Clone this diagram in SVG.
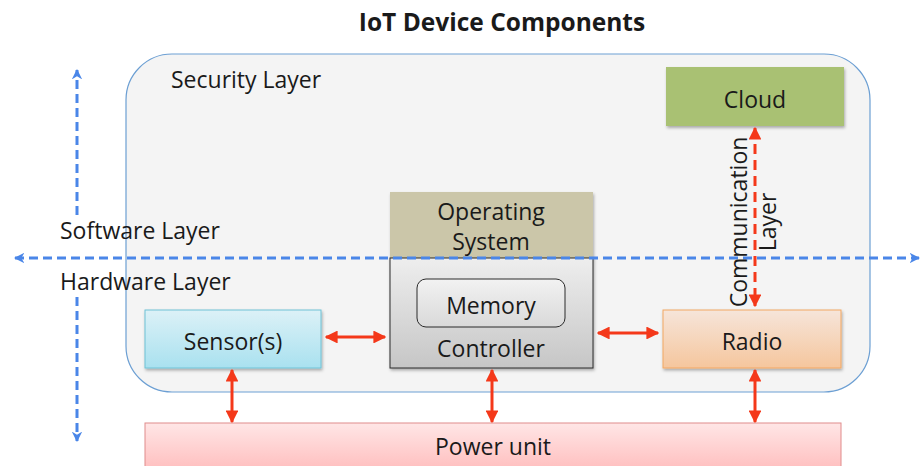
<svg xmlns="http://www.w3.org/2000/svg" width="922" height="466" viewBox="0 0 922 466">
<defs>
<style>
text{font-family:"Open Sans","Noto Sans","Liberation Sans",sans-serif;fill:#1a1a1a;font-size:23px}
.c{text-anchor:middle}
.blue{stroke:#4a86e8;stroke-width:3;stroke-dasharray:9 5;fill:none}
.red{stroke:#f4381a;stroke-width:3;fill:none}
.reddash{stroke:#f4381a;stroke-width:3;stroke-dasharray:10 6;fill:none}
</style>
<linearGradient id="gSensor" x1="0" y1="0" x2="0" y2="1"><stop offset="0" stop-color="#dcf1f7"/><stop offset="1" stop-color="#a9e1ef"/></linearGradient>
<linearGradient id="gRadio" x1="0" y1="0" x2="0" y2="1"><stop offset="0" stop-color="#f6e5da"/><stop offset="1" stop-color="#f5c69d"/></linearGradient>
<linearGradient id="gPower" x1="0" y1="0" x2="0" y2="1"><stop offset="0" stop-color="#ffe6e6"/><stop offset="1" stop-color="#ffbcbc"/></linearGradient>
<linearGradient id="gCtrl" x1="0" y1="0" x2="0" y2="1"><stop offset="0" stop-color="#eeeeee"/><stop offset="1" stop-color="#c6c6c6"/></linearGradient>
<linearGradient id="gMem" x1="0" y1="0" x2="0" y2="1"><stop offset="0" stop-color="#f2f2f2"/><stop offset="1" stop-color="#d9d9d9"/></linearGradient>
<filter id="sh" x="-10%" y="-10%" width="130%" height="140%"><feDropShadow dx="1" dy="2" stdDeviation="1.5" flood-color="#000" flood-opacity="0.3"/></filter>
<marker id="ra" viewBox="0 0 10 10" refX="9" refY="5" markerWidth="4.3" markerHeight="4.3" orient="auto-start-reverse" markerUnits="strokeWidth"><path d="M0,0 L10,5 L0,10 z" fill="#f4381a"/></marker>
<marker id="ba" viewBox="0 0 10 10" refX="9" refY="5" markerWidth="3.5" markerHeight="3.5" orient="auto-start-reverse" markerUnits="strokeWidth"><path d="M0,0 L10,5 L0,10 L3,5 z" fill="#4a86e8"/></marker>
</defs>

<text x="502" y="31" class="c" style="font-weight:bold;font-size:24.5px">IoT Device Components</text>

<g id="security-layer">
<rect x="126" y="54" width="744" height="338" rx="46" fill="#f4f4f4" stroke="#6c9fd3" stroke-width="1.2"/>
<text x="171" y="88">Security Layer</text>
</g>

<g id="layer-labels">
<text x="60" y="239">Software Layer</text>
<text x="60" y="290">Hardware Layer</text>
</g>

<g id="cloud">
<rect x="666" y="67" width="178" height="59" fill="#a9c173" filter="url(#sh)"/>
<text x="755" y="108" class="c">Cloud</text>
</g>

<g id="operating-system">
<rect x="390" y="192" width="203" height="66" fill="#cbc6a9" filter="url(#sh)"/>
<text x="491" y="220" class="c">Operating</text>
<text x="491" y="250" class="c">System</text>
</g>

<g id="controller">
<rect x="390" y="258" width="203" height="110" fill="url(#gCtrl)" stroke="#2a2a2a" stroke-width="1" filter="url(#sh)"/>
<text x="491" y="357" class="c">Controller</text>
</g>

<g id="memory">
<rect x="417" y="279" width="148" height="48" rx="9" fill="url(#gMem)" stroke="#2a2a2a" stroke-width="1"/>
<text x="491" y="314" class="c">Memory</text>
</g>

<g id="sensors">
<rect x="145" y="310" width="176" height="58" fill="url(#gSensor)" stroke="#6fc2d6" stroke-width="1" filter="url(#sh)"/>
<text x="233" y="350" class="c">Sensor(s)</text>
</g>

<g id="radio">
<rect x="663" y="310" width="178" height="58" fill="url(#gRadio)" stroke="#f2a763" stroke-width="1" filter="url(#sh)"/>
<text x="752" y="350" class="c">Radio</text>
</g>

<g id="power-unit">
<rect x="145" y="423" width="696" height="50" fill="url(#gPower)" stroke="#e08c8c" stroke-width="1"/>
<text x="493" y="455" class="c">Power unit</text>
</g>

<g id="connectors">
<line class="blue" x1="77" y1="215" x2="77" y2="70" marker-end="url(#ba)"/>
<line class="blue" x1="77" y1="297" x2="77" y2="441" marker-end="url(#ba)"/>
<line class="blue" x1="15" y1="258" x2="919" y2="258" marker-start="url(#ba)" marker-end="url(#ba)"/>
<line class="red" x1="326" y1="337" x2="385" y2="337" marker-start="url(#ra)" marker-end="url(#ra)"/>
<line class="red" x1="598" y1="333" x2="658" y2="333" marker-start="url(#ra)" marker-end="url(#ra)"/>
<line class="red" x1="232" y1="370" x2="232" y2="422" marker-start="url(#ra)" marker-end="url(#ra)"/>
<line class="red" x1="492" y1="370" x2="492" y2="422" marker-start="url(#ra)" marker-end="url(#ra)"/>
<line class="red" x1="755" y1="370" x2="755" y2="422" marker-start="url(#ra)" marker-end="url(#ra)"/>
<line class="reddash" x1="755" y1="128" x2="755" y2="306" marker-start="url(#ra)" marker-end="url(#ra)"/>
<g id="communication-label" transform="translate(755,222) rotate(-90)">
<text x="0" y="-8" class="c">Communication</text>
<text x="0" y="21" class="c">Layer</text>
</g>
</g>
</svg>
